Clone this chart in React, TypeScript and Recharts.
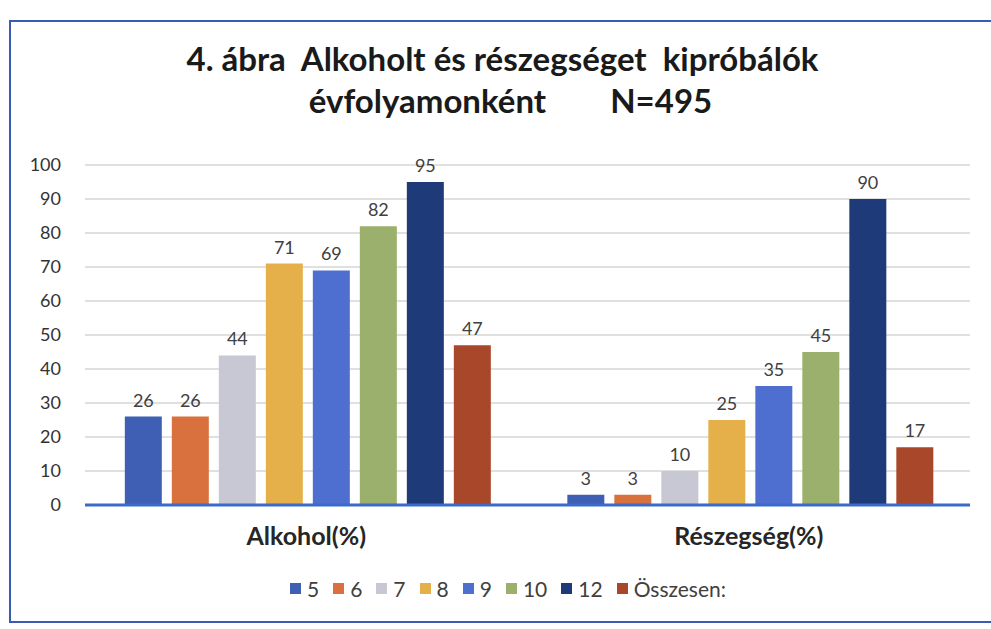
import React from "react";
import { BarChart, Bar, XAxis, YAxis, CartesianGrid, LabelList } from "recharts";

const categories = ["Alkohol(%)", "Részegség(%)"];
const grades = ["5", "6", "7", "8", "9", "10", "12", "Összesen:"];
const alkohol = [26, 26, 44, 71, 69, 82, 95, 47];
const reszegseg = [3, 3, 10, 25, 35, 45, 90, 17];
const yTicks = [0, 10, 20, 30, 40, 50, 60, 70, 80, 90, 100];
const colors = ["#3F5FB5", "#D9713F", "#C8C8D4", "#E5B04A", "#4F6FD0", "#9AB06C", "#1F3A78", "#A9472A"];

const seriesValues = [alkohol, reszegseg];
const data = categories.map((c, ci) => {
  const row: Record<string, string | number> = { name: c };
  grades.forEach((g, gi) => {
    row["g" + gi] = seriesValues[ci][gi];
  });
  return row;
});

const FONT = "Lato, 'Open Sans', sans-serif";

const CatTick = (props: any) => {
  const { x, y, payload } = props;
  return (
    <text x={x} y={y + 32} textAnchor="middle" fontFamily={FONT} fontWeight={700} fontSize={25} fill="#262626">
      {payload.value}
    </text>
  );
};

export default function App() {
  return (
    <div style={{ position: "absolute", left: 0, top: 0, width: 991, height: 629, background: "#fff", overflow: "hidden" }}>
      <div
        style={{
          position: "absolute",
          left: 9,
          top: 20,
          width: 1000,
          height: 603,
          border: "2px solid #3A5BB0",
          boxSizing: "border-box",
        }}
      />
      <div
        style={{
          position: "absolute",
          left: 0,
          top: 37,
          width: 1005,
          textAlign: "center",
          fontFamily: FONT,
          fontWeight: 700,
          fontSize: 33,
          lineHeight: "42px",
          color: "#1a1a1a",
          whiteSpace: "pre",
        }}
      >
        {"4. ábra  Alkoholt és részegséget  kipróbálók\n  évfolyamonként        N=495"}
      </div>
      <div style={{ position: "absolute", left: 0, top: 0 }}>
        <BarChart
          width={991}
          height={629}
          data={data}
          margin={{ top: 165, right: 21, bottom: 94, left: 15 }}
          barCategoryGap="9%"
          barGap={10}
        >
          <CartesianGrid vertical={false} stroke="#D6D6D6" strokeWidth={1.5} />
          <XAxis
            dataKey="name"
            axisLine={{ stroke: "#3A6BC8", strokeWidth: 3 }}
            tickLine={false}
            tick={<CatTick />}
            height={30}
          />
          <YAxis
            domain={[0, 100]}
            ticks={yTicks}
            axisLine={false}
            tickLine={false}
            width={70}
            tick={{ fontFamily: FONT, fontSize: 18, fill: "#333" }}
            tickMargin={18}
          />
          {grades.map((g, gi) => (
            <Bar key={g} dataKey={"g" + gi} name={g} fill={colors[gi]} isAnimationActive={false}>
              <LabelList dataKey={"g" + gi} position="top" offset={10} fill="#404040" fontSize={18} fontFamily={FONT} />
            </Bar>
          ))}
        </BarChart>
      </div>
      <div
        style={{
          position: "absolute",
          left: 0,
          top: 576,
          width: 1030,
          display: "flex",
          justifyContent: "center",
          alignItems: "center",
          fontFamily: FONT,
          fontSize: 21,
          color: "#404040",
        }}
      >
        {grades.map((g, gi) => (
          <span key={g} style={{ display: "inline-flex", alignItems: "center", marginRight: 14 }}>
            <span style={{ display: "inline-block", width: 11, height: 11, background: colors[gi], marginRight: 6 }} />
            {g}
          </span>
        ))}
      </div>
    </div>
  );
}
